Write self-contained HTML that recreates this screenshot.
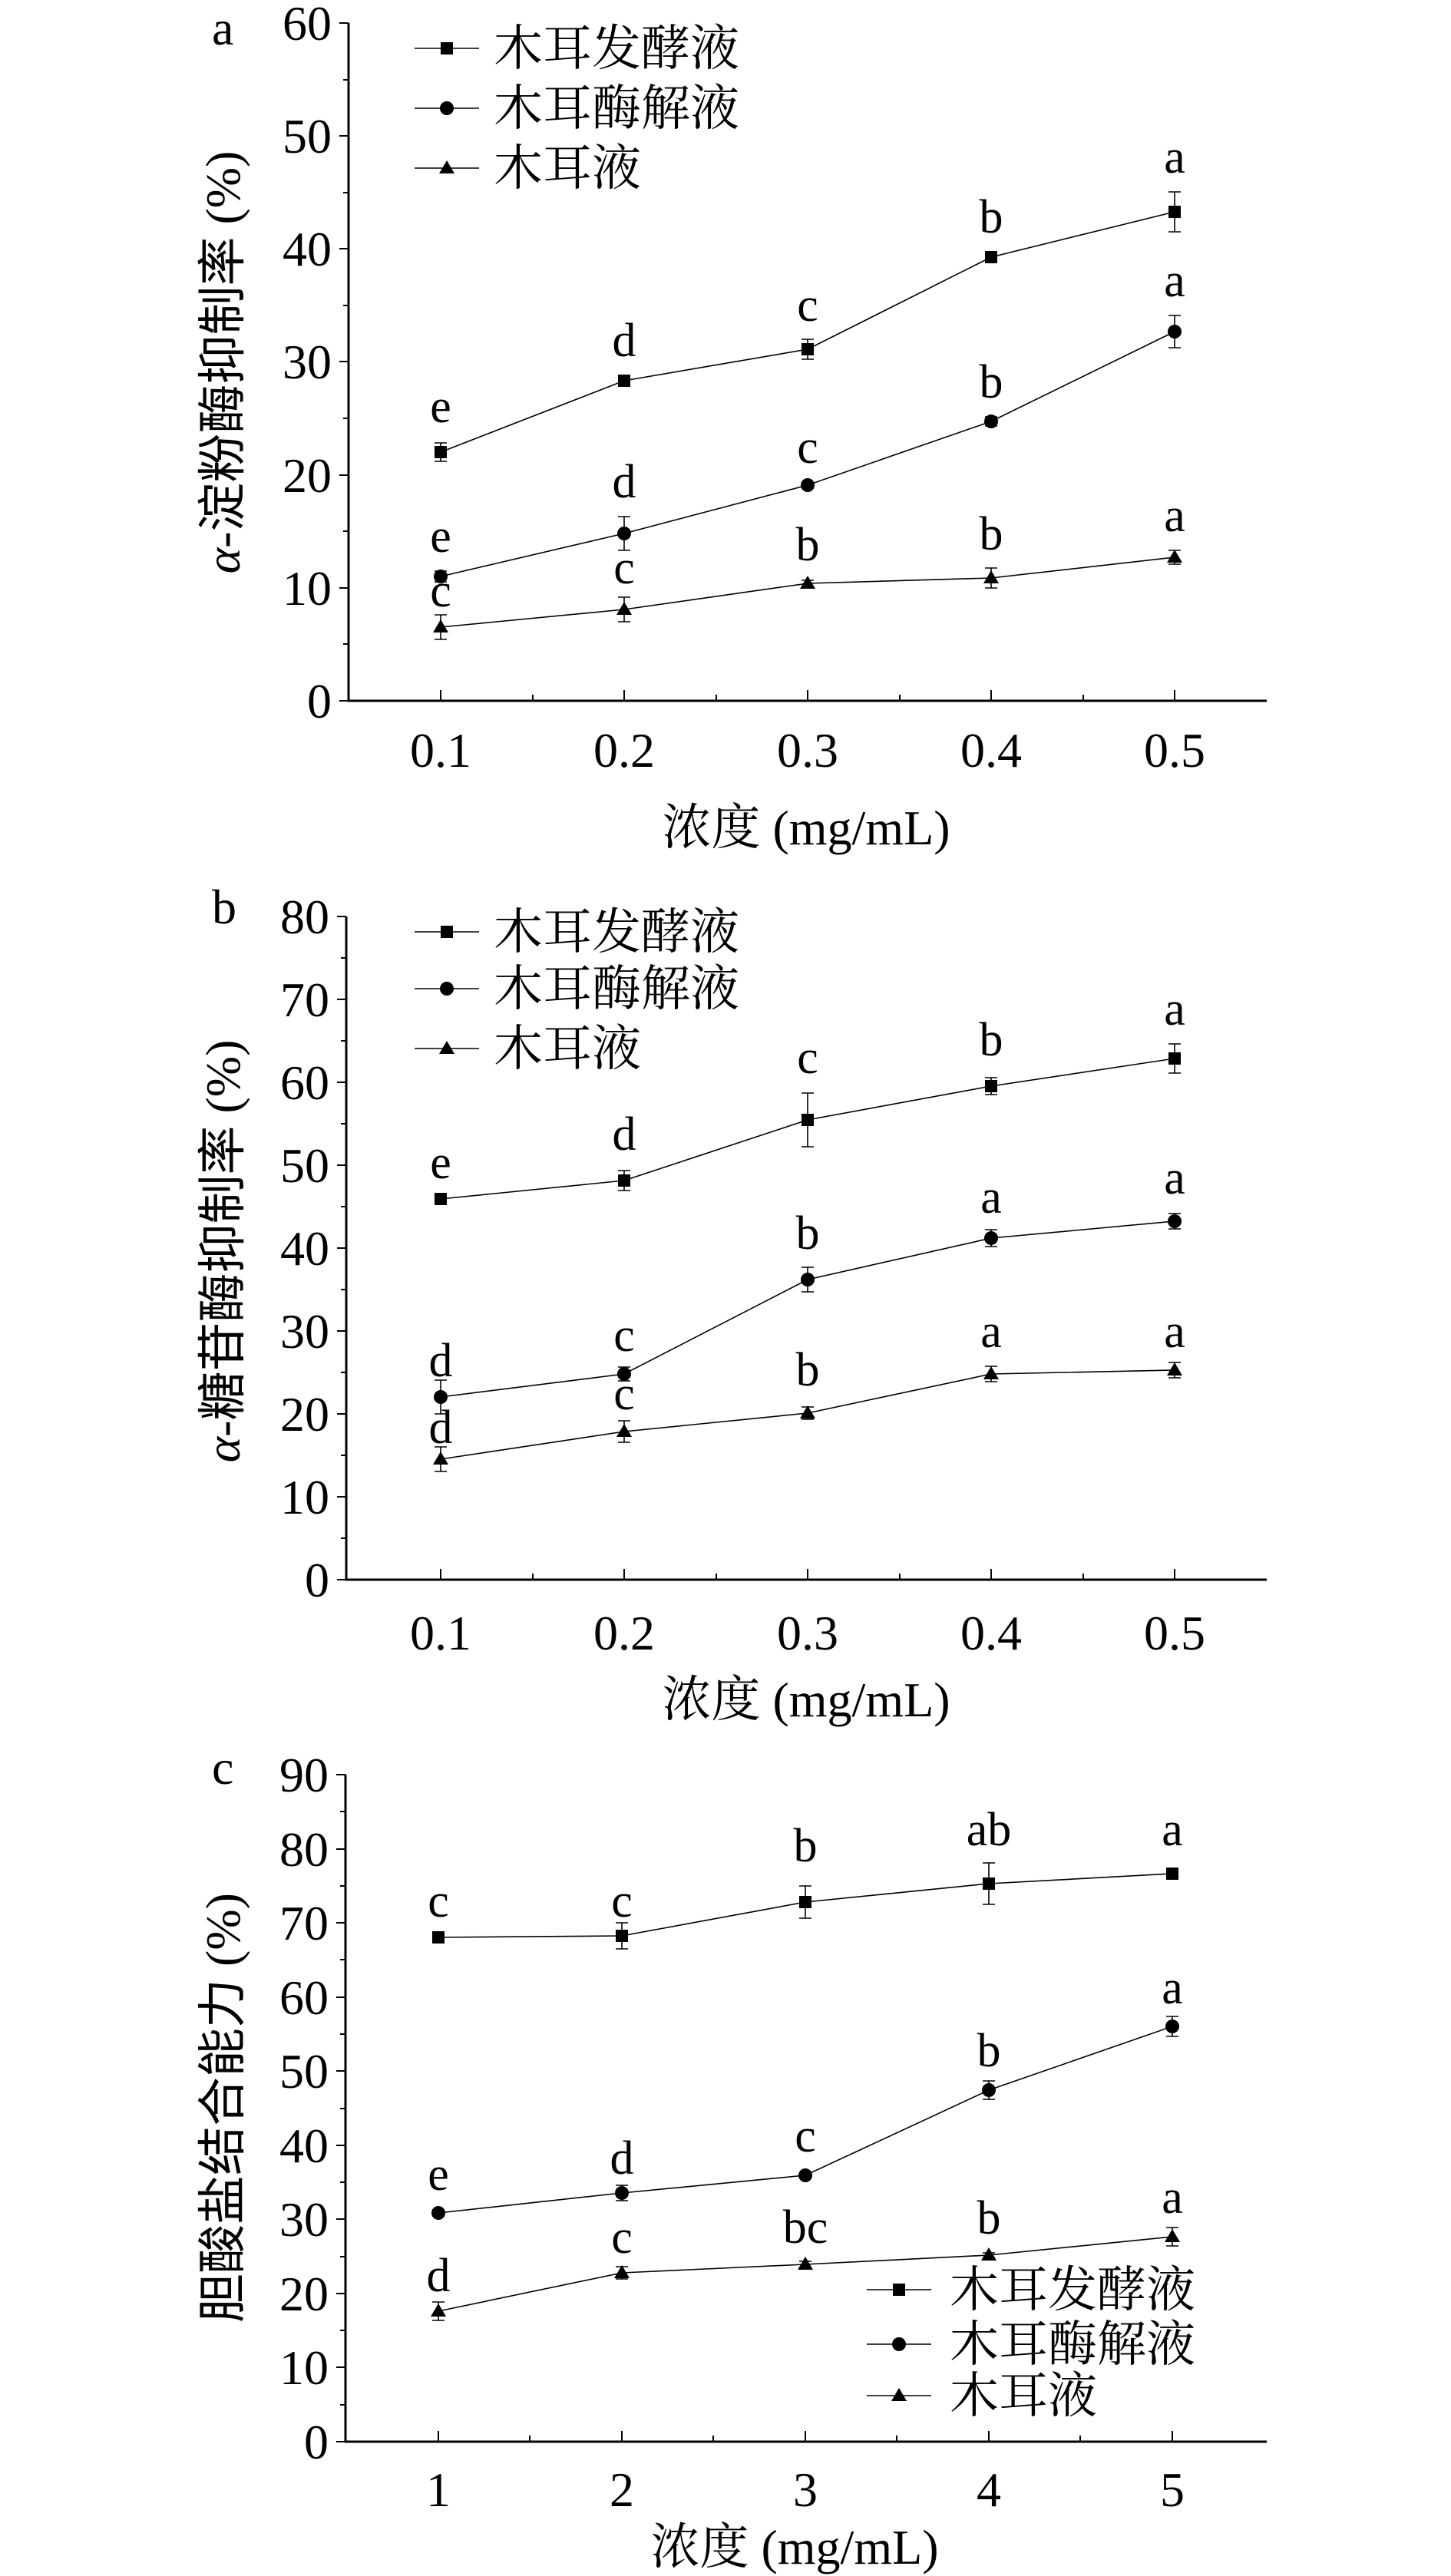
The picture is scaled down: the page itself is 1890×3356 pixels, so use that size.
<!DOCTYPE html>
<html><head><meta charset="utf-8"><style>
html,body{margin:0;padding:0;background:#fff}
svg{display:block}
text{font-family:"Liberation Serif","Noto Serif CJK SC",serif;fill:#000}
.t{font-size:64px}
.l{font-size:62px;text-anchor:middle}
.g{font-family:"Liberation Serif","Noto Sans CJK SC",sans-serif;font-size:64px}
</style></head><body>
<svg width="1890" height="3356" viewBox="0 0 1890 3356" xmlns="http://www.w3.org/2000/svg">
<g stroke="#000" fill="none" stroke-width="2">
<path d="M454 30 V913 H1650" stroke-width="3"/>
<path d="M442 913H454M442 766H454M442 619H454M442 471H454M442 324H454M442 177H454M442 30H454M447 839H454M447 692H454M447 545H454M447 398H454M447 251H454M447 104H454"/>
<path d="M574 913V899M813 913V899M1052 913V899M1291 913V899M1530 913V899M694 913V905M933 913V905M1172 913V905M1411 913V905"/>
<path d="M451 1194 V2058 H1650" stroke-width="3"/>
<path d="M439 2058H451M439 1950H451M439 1842H451M439 1734H451M439 1626H451M439 1518H451M439 1410H451M439 1302H451M439 1194H451M444 2004H451M444 1896H451M444 1788H451M444 1680H451M444 1572H451M444 1464H451M444 1356H451M444 1248H451"/>
<path d="M574 2058V2044M813 2058V2044M1052 2058V2044M1291 2058V2044M1530 2058V2044M694 2058V2050M933 2058V2050M1172 2058V2050M1411 2058V2050"/>
<path d="M450 2312 V3181 H1650" stroke-width="3"/>
<path d="M438 3181H450M438 3084H450M438 2988H450M438 2891H450M438 2795H450M438 2698H450M438 2602H450M438 2505H450M438 2409H450M438 2312H450M443 3133H450M443 3036H450M443 2940H450M443 2843H450M443 2747H450M443 2650H450M443 2553H450M443 2457H450M443 2360H450"/>
<path d="M571 3181V3167M810 3181V3167M1049 3181V3167M1288 3181V3167M1527 3181V3167M690 3181V3173M929 3181V3173M1168 3181V3173M1407 3181V3173"/>

<g stroke-width="1.6">
<polyline points="574,589 813,496 1052,455 1291,335 1530,276"/>
<polyline points="574,751 813,695 1052,632 1291,549 1530,432"/>
<polyline points="574,817 813,794 1052,760 1291,753 1530,726"/>
<polyline points="574,1562 813,1538 1052,1459 1291,1415 1530,1379"/>
<polyline points="574,1820 813,1790 1052,1667 1291,1613 1530,1591"/>
<polyline points="574,1901 813,1865 1052,1841 1291,1790 1530,1785"/>
<polyline points="571,2524 810,2522 1049,2478 1288,2454 1527,2441"/>
<polyline points="571,2883 810,2857 1049,2834 1288,2723 1527,2640"/>
<polyline points="571,3011 810,2961 1049,2950 1288,2938 1527,2914"/>
<path d="M574 577V601M566 577H582M566 601H582 M813 490V502M805 490H821M805 502H821 M1052 442V468M1044 442H1060M1044 468H1060 M1291 328V342M1283 328H1299M1283 342H1299 M1530 250V302M1522 250H1538M1522 302H1538"/>
<path d="M574 744V758M566 744H582M566 758H582 M813 673V717M805 673H821M805 717H821 M1052 628V636M1044 628H1060M1044 636H1060 M1291 543V555M1283 543H1299M1283 555H1299 M1530 411V453M1522 411H1538M1522 453H1538"/>
<path d="M574 801V833M566 801H582M566 833H582 M813 778V810M805 778H821M805 810H821 M1052 756V764M1044 756H1060M1044 764H1060 M1291 740V766M1283 740H1299M1283 766H1299 M1530 717V735M1522 717H1538M1522 735H1538"/>
<path d="M574 1557V1567M566 1557H582M566 1567H582 M813 1525V1551M805 1525H821M805 1551H821 M1052 1424V1494M1044 1424H1060M1044 1494H1060 M1291 1404V1426M1283 1404H1299M1283 1426H1299 M1530 1360V1398M1522 1360H1538M1522 1398H1538"/>
<path d="M574 1798V1842M566 1798H582M566 1842H582 M813 1781V1799M805 1781H821M805 1799H821 M1052 1651V1683M1044 1651H1060M1044 1683H1060 M1291 1602V1624M1283 1602H1299M1283 1624H1299 M1530 1581V1601M1522 1581H1538M1522 1601H1538"/>
<path d="M574 1885V1917M566 1885H582M566 1917H582 M813 1851V1879M805 1851H821M805 1879H821 M1052 1833V1849M1044 1833H1060M1044 1849H1060 M1291 1780V1800M1283 1780H1299M1283 1800H1299 M1530 1775V1795M1522 1775H1538M1522 1795H1538"/>
<path d="M571 2521V2527M563 2521H579M563 2527H579 M810 2505V2539M802 2505H818M802 2539H818 M1049 2457V2499M1041 2457H1057M1041 2499H1057 M1288 2427V2481M1280 2427H1296M1280 2481H1296 M1527 2436V2446M1519 2436H1535M1519 2446H1535"/>
<path d="M571 2879V2887M563 2879H579M563 2887H579 M810 2847V2867M802 2847H818M802 2867H818 M1049 2831V2837M1041 2831H1057M1041 2837H1057 M1288 2711V2735M1280 2711H1296M1280 2735H1296 M1527 2627V2653M1519 2627H1535M1519 2653H1535"/>
<path d="M571 2999V3023M563 2999H579M563 3023H579 M810 2953V2969M802 2953H818M802 2969H818 M1049 2946V2954M1041 2946H1057M1041 2954H1057 M1288 2935V2941M1280 2935H1296M1280 2941H1296 M1527 2902V2926M1519 2902H1535M1519 2926H1535"/>
<path d="M540 63H624M540 141H624M540 219H624 M540 1214H624M540 1288H624M540 1366H624 M1129 2983H1213M1129 3054H1213M1129 3121H1213"/>
</g>
</g>
<g fill="#000">
<rect x="566" y="581" width="16" height="16"/><rect x="805" y="488" width="16" height="16"/><rect x="1044" y="447" width="16" height="16"/><rect x="1283" y="327" width="16" height="16"/><rect x="1522" y="268" width="16" height="16"/>
<rect x="566" y="1554" width="16" height="16"/><rect x="805" y="1530" width="16" height="16"/><rect x="1044" y="1451" width="16" height="16"/><rect x="1283" y="1407" width="16" height="16"/><rect x="1522" y="1371" width="16" height="16"/>
<rect x="563" y="2516" width="16" height="16"/><rect x="802" y="2514" width="16" height="16"/><rect x="1041" y="2470" width="16" height="16"/><rect x="1280" y="2446" width="16" height="16"/><rect x="1519" y="2433" width="16" height="16"/>
<rect x="574" y="55" width="16" height="16"/><rect x="574" y="1206" width="16" height="16"/><rect x="1163" y="2975" width="16" height="16"/>
<circle cx="574" cy="751" r="9"/><circle cx="813" cy="695" r="9"/><circle cx="1052" cy="632" r="9"/><circle cx="1291" cy="549" r="9"/><circle cx="1530" cy="432" r="9"/>
<circle cx="574" cy="1820" r="9"/><circle cx="813" cy="1790" r="9"/><circle cx="1052" cy="1667" r="9"/><circle cx="1291" cy="1613" r="9"/><circle cx="1530" cy="1591" r="9"/>
<circle cx="571" cy="2883" r="9"/><circle cx="810" cy="2857" r="9"/><circle cx="1049" cy="2834" r="9"/><circle cx="1288" cy="2723" r="9"/><circle cx="1527" cy="2640" r="9"/>
<circle cx="582" cy="141" r="9"/><circle cx="582" cy="1288" r="9"/><circle cx="1171" cy="3054" r="9"/>
<path d="M574 807l10 17h-20z M813 784l10 17h-20z M1052 750l10 17h-20z M1291 743l10 17h-20z M1530 716l10 17h-20z
M574 1891l10 17h-20z M813 1855l10 17h-20z M1052 1831l10 17h-20z M1291 1780l10 17h-20z M1530 1775l10 17h-20z
M571 3001l10 17h-20z M810 2951l10 17h-20z M1049 2940l10 17h-20z M1288 2928l10 17h-20z M1527 2904l10 17h-20z
M582 209l10 17h-20z M582 1356l10 17h-20z M1171 3111l10 17h-20z"/>
</g>

<text class="t" x="276" y="58">a</text>
<text class="t" x="276" y="1203">b</text>
<text class="t" x="276" y="2324">c</text>

<g class="t" text-anchor="end">
<text x="432" y="935">0</text><text x="432" y="788">10</text><text x="432" y="641">20</text><text x="432" y="493">30</text><text x="432" y="346">40</text><text x="432" y="199">50</text><text x="432" y="52">60</text>
<text x="429" y="2080">0</text><text x="429" y="1972">10</text><text x="429" y="1864">20</text><text x="429" y="1756">30</text><text x="429" y="1648">40</text><text x="429" y="1540">50</text><text x="429" y="1432">60</text><text x="429" y="1324">70</text><text x="429" y="1216">80</text>
<text x="428" y="3203">0</text><text x="428" y="3106">10</text><text x="428" y="3010">20</text><text x="428" y="2913">30</text><text x="428" y="2817">40</text><text x="428" y="2720">50</text><text x="428" y="2624">60</text><text x="428" y="2527">70</text><text x="428" y="2431">80</text><text x="428" y="2334">90</text>
</g>
<g class="t" text-anchor="middle">
<text x="574" y="999">0.1</text><text x="813" y="999">0.2</text><text x="1052" y="999">0.3</text><text x="1291" y="999">0.4</text><text x="1530" y="999">0.5</text>
<text x="574" y="2149">0.1</text><text x="813" y="2149">0.2</text><text x="1052" y="2149">0.3</text><text x="1291" y="2149">0.4</text><text x="1530" y="2149">0.5</text>
<text x="571" y="3265">1</text><text x="810" y="3265">2</text><text x="1049" y="3265">3</text><text x="1288" y="3265">4</text><text x="1527" y="3265">5</text>
</g>
<g class="g" text-anchor="middle">
<text x="1050" y="1100">浓度 (mg/mL)</text>
<text x="1050" y="2236">浓度 (mg/mL)</text>
<text x="1035" y="3340">浓度 (mg/mL)</text>
</g>
<text class="g" text-anchor="middle" transform="translate(312,472) rotate(-90)"><tspan font-style="italic">α</tspan>-淀粉酶抑制率 (%)</text>
<text class="g" text-anchor="middle" transform="translate(312,1630) rotate(-90)"><tspan font-style="italic">α</tspan>-糖苷酶抑制率 (%)</text>
<text class="g" text-anchor="middle" transform="translate(312,2746) rotate(-90)">胆酸盐结合能力 (%)</text>
<g class="g">
<text x="643" y="85">木耳发酵液</text><text x="643" y="163">木耳酶解液</text><text x="643" y="241">木耳液</text>
<text x="643" y="1236">木耳发酵液</text><text x="643" y="1310">木耳酶解液</text><text x="643" y="1388">木耳液</text>
<text x="1237" y="3005">木耳发酵液</text><text x="1237" y="3076">木耳酶解液</text><text x="1237" y="3143">木耳液</text>
</g>
<g class="l">
<text x="574" y="550">e</text><text x="813" y="464">d</text><text x="1052" y="418">c</text><text x="1291" y="303">b</text><text x="1530" y="225">a</text>
<text x="574" y="719">e</text><text x="813" y="648">d</text><text x="1052" y="603">c</text><text x="1291" y="518">b</text><text x="1530" y="386">a</text>
<text x="574" y="790">c</text><text x="813" y="760">c</text><text x="1052" y="730">b</text><text x="1291" y="716">b</text><text x="1530" y="692">a</text>
<text x="574" y="1535">e</text><text x="813" y="1498">d</text><text x="1052" y="1398">c</text><text x="1291" y="1375">b</text><text x="1530" y="1335">a</text>
<text x="574" y="1793">d</text><text x="813" y="1760">c</text><text x="1052" y="1627">b</text><text x="1291" y="1580">a</text><text x="1530" y="1555">a</text>
<text x="574" y="1880">d</text><text x="813" y="1836">c</text><text x="1052" y="1805">b</text><text x="1291" y="1755">a</text><text x="1530" y="1755">a</text>
<text x="571" y="2497">c</text><text x="810" y="2497">c</text><text x="1049" y="2425">b</text><text x="1288" y="2404">ab</text><text x="1527" y="2404">a</text>
<text x="571" y="2853">e</text><text x="810" y="2832">d</text><text x="1049" y="2803">c</text><text x="1288" y="2692">b</text><text x="1527" y="2610">a</text>
<text x="571" y="2985">d</text><text x="810" y="2935">c</text><text x="1049" y="2922">bc</text><text x="1288" y="2910">b</text><text x="1527" y="2883">a</text>
</g>
</svg>
</body></html>
